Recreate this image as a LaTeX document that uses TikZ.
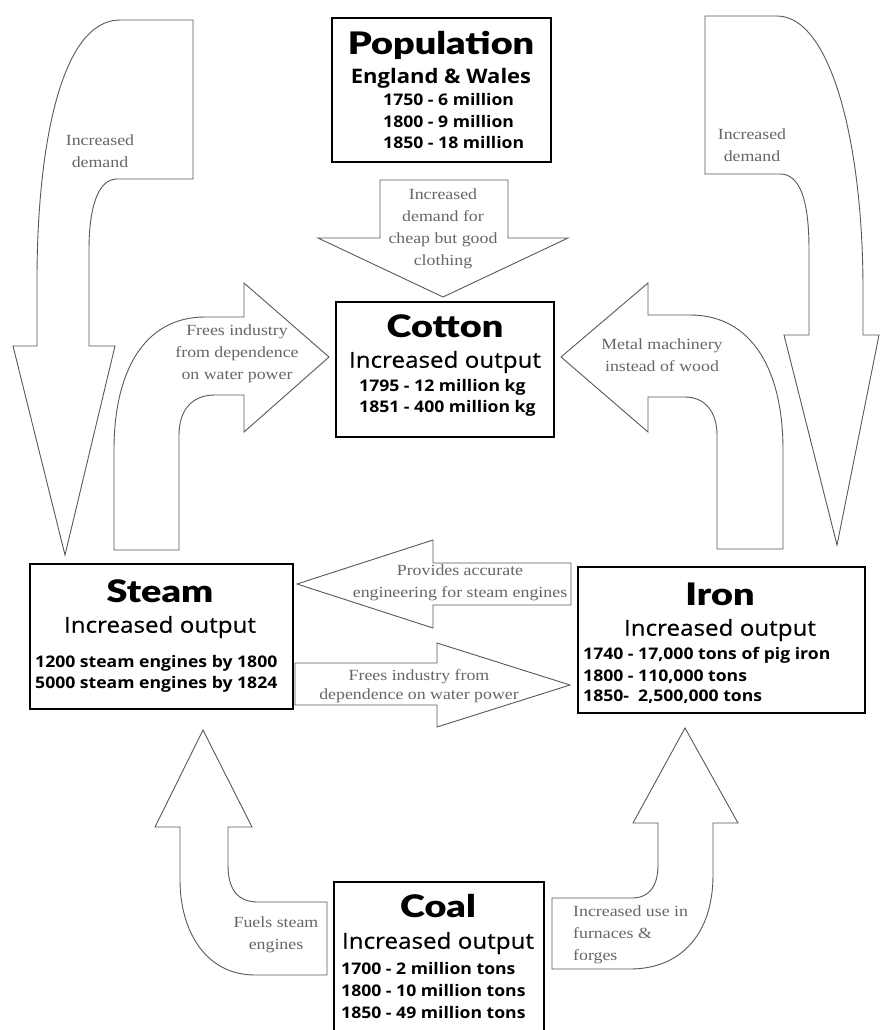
\documentclass[tikz,border=0pt]{standalone}
\usepackage{fontspec}
\newfontfamily\boxf{Open Sans}[FakeStretch=1.1]
\newfontfamily\subf{Open Sans}[FakeStretch=1.1, FakeBold=0.5]
\newfontfamily\heavyf{Lato Black}[FakeStretch=1.22]
\newfontfamily\lblf{Liberation Serif}[FakeStretch=1.15]
\begin{document}
\begin{tikzpicture}[x=1pt,y=-1pt,
  blk/.style={draw=black!65, line width=0.9pt, fill=white, line join=miter},
  frame/.style={draw=black, line width=2pt, fill=white, inner sep=0pt},
  ttl/.style={font=\heavyf\fontsize{31}{33}\selectfont, inner sep=0pt},
  sub/.style={font=\subf\fontsize{22}{24}\selectfont, inner sep=0pt},
  subb/.style={font=\boxf\bfseries\fontsize{20}{22}\selectfont, inner sep=0pt},
  dat/.style={font=\boxf\bfseries\fontsize{16}{18}\selectfont, inner sep=0pt, anchor=west},
  lbl/.style={font=\lblf\fontsize{15.5}{22}\selectfont, text=black!60, inner sep=0pt, align=center},
]
\useasboundingbox (0,0) rectangle (879,1030);
\fill[white] (0,0) rectangle (879,1030);

% ---- big top-left arrow (increased demand -> steam)
\draw[blk] (120,20) -- (193,20) -- (193,179) -- (117,179)
  .. controls (97,179) and (89,210) .. (89,250) -- (89,346) -- (115,346)
  -- (65,555) -- (13,346) -- (37,346) -- (37,280)
  .. controls (37,150) and (60,20) .. (120,20) -- cycle;
\node[lbl] (lblL) at (100,151) {Increased\\demand};

% ---- big top-right arrow (increased demand -> iron)
\draw[blk] (705,16) -- (777,16) .. controls (830,16) and (863,140) .. (863,290)
  -- (863,335) -- (879,335) -- (837,545) -- (784,335) -- (809,335) -- (809,250)
  .. controls (809,200) and (800,174) .. (780,174) -- (705,174) -- cycle;
\node[lbl] (lblR) at (752,145) {Increased\\demand};

% ---- population -> cotton arrow
\draw[blk] (380,180) -- (508,180) -- (508,238) -- (568,238) -- (443,297)
  -- (318,238) -- (380,238) -- cycle;
\node[lbl] (lblPop) at (443,229) {Increased\\demand for\\cheap but good\\clothing};

% ---- steam -> cotton curved arrow
\draw[blk] (114,550) -- (114,450) .. controls (114,370) and (145,317) .. (205,317)
  -- (244,317) -- (244,283) -- (329,357) -- (244,432) -- (244,395) -- (215,395)
  .. controls (192,395) and (179,410) .. (179,435) -- (179,550) -- cycle;
\node[lbl] (lblFrees) at (237,354) {Frees industry\\from dependence\\on water power};

% ---- iron -> cotton curved arrow
\draw[blk] (783,549) -- (783,450) .. controls (783,370) and (752,315) .. (690,315)
  -- (648,315) -- (648,283) -- (561,357) -- (648,432) -- (648,397) -- (685,397)
  .. controls (705,397) and (717,412) .. (717,435) -- (717,549) -- cycle;
\node[lbl] (lblMetal) at (662,355) {Metal machinery\\instead of wood};

% ---- iron -> steam arrow
\draw[blk] (571,563) -- (433,563) -- (433,540) -- (297,584) -- (433,628)
  -- (433,605) -- (571,605) -- cycle;
\node[lbl] (lblProv) at (460,583) {Provides accurate\\engineering for steam engines};

% ---- steam -> iron arrow
\draw[blk] (295,663) -- (437,663) -- (437,643) -- (570,685) -- (437,727)
  -- (437,705) -- (295,705) -- cycle;
\node[lbl, font=\lblf\fontsize{15.5}{19}\selectfont] (lblFrees2) at (419,686) {Frees industry from\\dependence on water power};

% ---- coal -> steam arrow
\draw[blk] (203,730) -- (252,827) -- (228,827) -- (228,865)
  .. controls (228,890) and (238,902) .. (258,902) -- (327,902) -- (327,975)
  -- (255,975) .. controls (205,975) and (180,930) .. (180,880) -- (180,827)
  -- (155,827) -- cycle;
\node[lbl] (lblFuels) at (276,935) {Fuels steam\\engines};

% ---- coal -> iron arrow
\draw[blk] (685,728) -- (738,823) -- (713,823) -- (713,875)
  .. controls (713,935) and (680,969) .. (630,969) -- (552,969) -- (552,898)
  -- (632,898) .. controls (650,898) and (658,885) .. (658,865) -- (658,823)
  -- (633,823) -- cycle;
\node[lbl, align=left, anchor=west] (lblUse) at (573,935) {Increased use in\\furnaces \&\\forges};

% ---- boxes
\node[frame, minimum width=219pt, minimum height=144pt] (popbox) at (441.5,90) {};
\node[ttl] (popT) at (441,45) {Population};
\node[subb] (popS) at (441,78) {England \& Wales};
\node[dat] (popD1) at (383,100) {1750 - 6 million};
\node[dat] (popD2) at (383,122) {1800 - 9 million};
\node[dat] (popD3) at (383,143) {1850 - 18 million};

\node[frame, minimum width=218pt, minimum height=135pt] (cotbox) at (445,369.5) {};
\node[ttl] (cotT) at (445,326) {Cotton};
\node[sub] (cotS) at (445,362) {Increased output};
\node[dat] (cotD1) at (359,387) {1795 - 12 million kg};
\node[dat] (cotD2) at (359,408) {1851 - 400 million kg};

\node[frame, minimum width=263pt, minimum height=145pt] (stmbox) at (161.5,636.5) {};
\node[ttl] (stmT) at (160,591) {Steam};
\node[sub] (stmS) at (160,627) {Increased output};
\node[dat] (stmD1) at (35,663) {1200 steam engines by 1800};
\node[dat] (stmD2) at (35,684) {5000 steam engines by 1824};

\node[frame, minimum width=287pt, minimum height=146pt] (ironbox) at (721.5,640) {};
\node[ttl] (ironT) at (720,594) {Iron};
\node[sub] (ironS) at (720,630) {Increased output};
\node[dat] (ironD1) at (583,655) {1740 - 17,000 tons of pig iron};
\node[dat] (ironD2) at (583,677) {1800 - 110,000 tons};
\node[dat] (ironD3) at (583,697) {1850-\ \ 2,500,000 tons};

\node[frame, minimum width=210pt, minimum height=158pt] (coalbox) at (439,961) {};
\node[ttl] (coalT) at (438,906) {Coal};
\node[sub] (coalS) at (438,943) {Increased output};
\node[dat] (coalD1) at (341,968) {1700 - 2 million tons};
\node[dat] (coalD2) at (341,990) {1800 - 10 million tons};
\node[dat] (coalD3) at (341,1012) {1850 - 49 million tons};
\end{tikzpicture}
\end{document}
